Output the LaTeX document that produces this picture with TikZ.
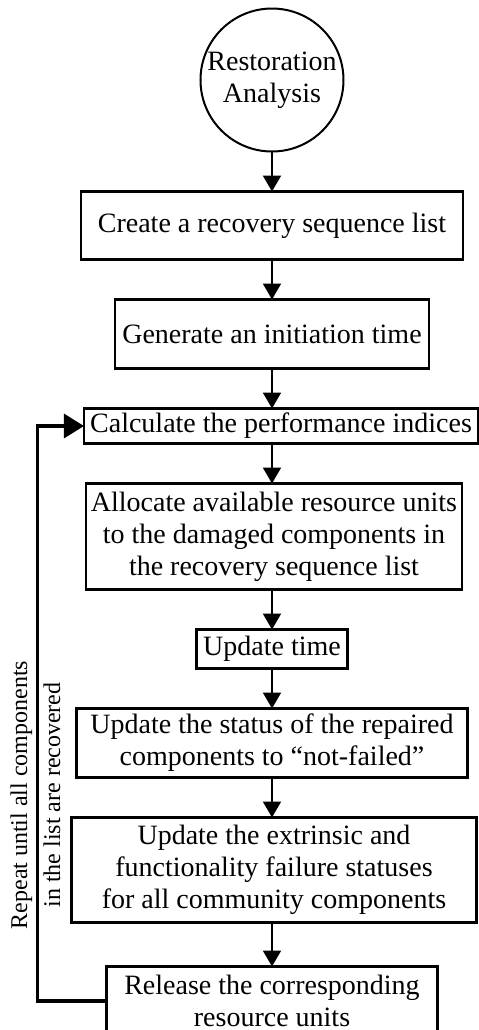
\documentclass[tikz,border=0pt]{standalone}
\usepackage{fontspec}
\setmainfont{Liberation Serif}
\usetikzlibrary{positioning,arrows.meta,calc}
\tikzset{
  term/.style={circle, draw, line width=1pt, minimum size=71.5pt, inner sep=0pt,
               outer sep=0pt, align=center, font=\fontsize{14}{16}\selectfont},
  box/.style={rectangle, draw, line width=1.2pt, inner sep=2pt, outer sep=0pt,
              align=center, font=\fontsize{14}{16}\selectfont},
  note/.style={rotate=90, align=center, inner sep=0pt,
               font=\fontsize{12}{16.5}\selectfont},
  flow/.style={-{Triangle[length=8pt,width=9pt]}, line width=1pt},
  back/.style={-{Triangle[length=10pt,width=12pt]}, line width=1.6pt}
}
\begin{document}
\begin{tikzpicture}[node distance=20pt]
\useasboundingbox (-136pt,40pt) rectangle (103pt,-475pt);
\node[term] (start) {Restoration\\Analysis};
\node[box, below=of start, minimum width=191pt, minimum height=34pt] (seq) {Create a recovery sequence list};
\node[box, below=of seq, minimum width=157pt, minimum height=34.5pt] (init) {Generate an initiation time};
\node[box, below=of init, xshift=4.5pt, minimum width=197pt, minimum height=17.5pt] (perf) {Calculate the performance indices};
\node[box, below=of perf, xshift=-3.5pt, minimum width=188pt, minimum height=53pt] (alloc) {Allocate available resource units\\to the damaged components in\\the recovery sequence list};
\node[box, below=of alloc, xshift=-1pt, minimum width=75.5pt, minimum height=19.5pt] (tupd) {Update time};
\node[box, below=of tupd, minimum width=195.5pt, minimum height=34.5pt] (stat) {Update the status of the repaired\\components to ``not-failed''};
\node[box, below=of stat, xshift=1pt, minimum width=202.5pt, minimum height=52.5pt] (fail) {Update the extrinsic and\\functionality failure statuses\\for all community components};
\node[box, below=22pt of fail, xshift=-1pt, minimum width=165.5pt, minimum height=34.5pt] (rel) {Release the corresponding\\resource units};
\draw[flow] (start.south) -- (seq.north -| start);
\draw[flow] (seq.south -| start) -- (init.north -| start);
\draw[flow] (init.south -| start) -- (perf.north -| start);
\draw[flow] (perf.south -| start) -- (alloc.north -| start);
\draw[flow] (alloc.south -| start) -- (tupd.north -| start);
\draw[flow] (tupd.south -| start) -- (stat.north -| start);
\draw[flow] (stat.south -| start) -- (fail.north -| start);
\draw[flow] (fail.south -| start) -- (rel.north -| start);
\draw[back] (rel.west) -- ++(-34.5pt,0) coordinate (turn) |- (perf.west);
\node[note] (repeat) at ([shift={(-1pt,103pt)}]turn) {Repeat until all components\\in the list are recovered};
\end{tikzpicture}
\end{document}
